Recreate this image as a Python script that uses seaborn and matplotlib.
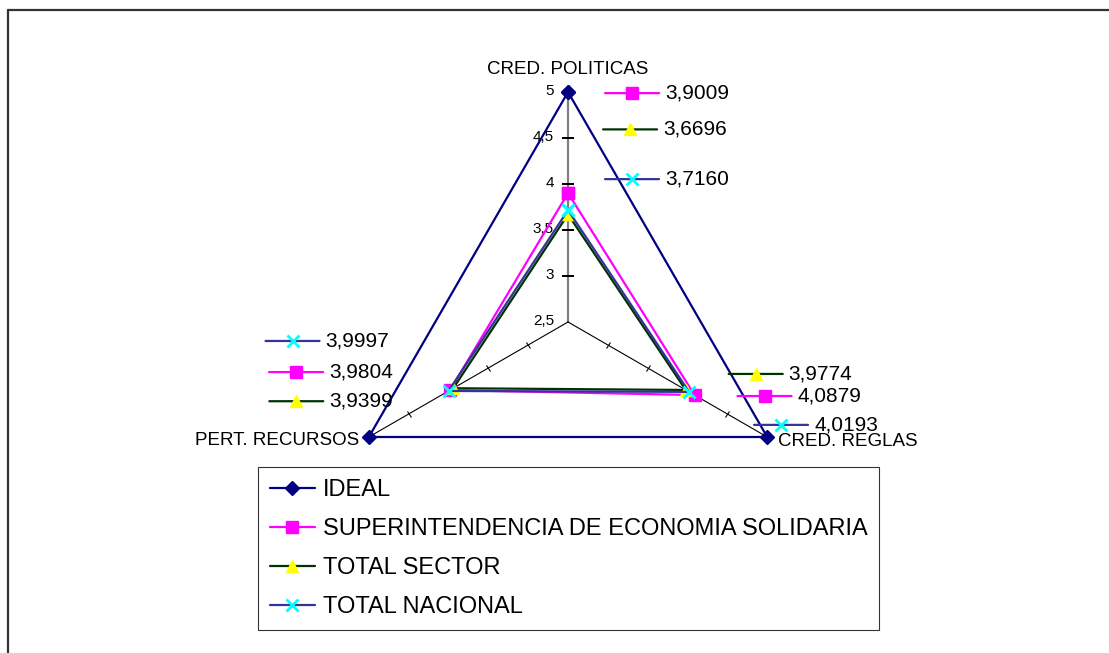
import numpy as np
import matplotlib
matplotlib.use("Agg")
import matplotlib.pyplot as plt
import matplotlib.transforms as mtransforms
from matplotlib.markers import MarkerStyle
import seaborn as sns

# --- Datos ---
categorias = ["CRED. POLITICAS", "CRED. REGLAS", "PERT. RECURSOS"]
series = ["IDEAL", "SUPERINTENDENCIA DE ECONOMIA SOLIDARIA", "TOTAL SECTOR", "TOTAL NACIONAL"]
ideal = [5, 5, 5]
superintendencia = [3.9009, 4.0879, 3.9804]
total_sector = [3.6696, 3.9774, 3.9399]
total_nacional = [3.7160, 4.0193, 3.9997]
valores = [ideal, superintendencia, total_sector, total_nacional]
ticks = [2.5, 3, 3.5, 4, 4.5, 5]
tick_labels = ["2,5", "3", "3,5", "4", "4,5", "5"]

# --- Estilo ---
sns.set_style("white")
plt.rcParams["font.family"] = ["Liberation Sans", "DejaVu Sans"]
plt.rcParams["text.color"] = "black"

estilos = [
    dict(color="#000080", marker="D", mfc="#000080", mec="#000080", ms=7),
    dict(color="#FF00FF", marker="s", mfc="#FF00FF", mec="#FF00FF", ms=8),
    dict(color="#003300", marker="^", mfc="#FFFF00", mec="#FFFF00", ms=9),
    dict(color="#333399", marker="x", mfc="#00FFFF", mec="#00FFFF", ms=9, mew=2),
]

# desplazamientos (pixeles) de las etiquetas de datos respecto a cada punto
offsets = {
    1: [(64, 100), (70, -1), (-154, 18)],
    2: [(62, 85), (70, 16), (-157, -13)],
    3: [(64, 31), (92, -33), (-156, 50)],
}

fig = plt.figure(figsize=(11.09, 6.53), dpi=100)
ax = fig.add_axes([0.3048, 0.1547, 0.4148, 0.7044], projection="polar")
ax.set_theta_offset(np.pi / 2)
ax.set_theta_direction(-1)
ax.set_ylim(2.5, 5)
ax.grid(False)
ax.spines["polar"].set_visible(False)
ax.set_xticks([])
ax.set_yticks([])
ax.patch.set_alpha(0)

angulos = np.linspace(0, 2 * np.pi, len(categorias), endpoint=False)

# ejes radiales
for i, a in enumerate(angulos):
    if i == 0:
        ax.plot([a, a], [2.5, 5], color="#808080", lw=1.6, zorder=1)
    else:
        ax.plot([a, a], [2.5, 5], color="black", lw=0.8, zorder=1)
    ang_pantalla = 90 - np.degrees(a)
    mk = MarkerStyle("_", transform=mtransforms.Affine2D().rotate_deg(ang_pantalla + 90))
    ax.plot([a] * (len(ticks) - 1), ticks[1:], ls="none", marker=mk,
            color="black", ms=8 if i == 0 else 5, mew=1.4 if i == 0 else 0.8, zorder=1)

for v, t in zip(ticks, tick_labels):
    ax.annotate(t, (0, v), xytext=(-14, 1), textcoords="offset pixels",
                ha="right", va="center", fontsize=11)

# series
theta_c = np.append(angulos, angulos[0])
for nombre, vals, est in zip(series, valores, estilos):
    r = np.append(vals, vals[0])
    ax.plot(theta_c, r, lw=1.6, label=nombre, zorder=3, clip_on=False, **est)

# etiquetas de categorias
ax.annotate(categorias[0], (angulos[0], 5), xytext=(0, 23), textcoords="offset pixels",
            ha="center", va="center", fontsize=13.5)
ax.annotate(categorias[1], (angulos[1], 5), xytext=(11, -5), textcoords="offset pixels",
            ha="left", va="center", fontsize=13.5)
ax.annotate(categorias[2], (angulos[2], 5), xytext=(-10, -4), textcoords="offset pixels",
            ha="right", va="center", fontsize=13.5)

# etiquetas de datos con clave de leyenda
for s in (1, 2, 3):
    for j, a in enumerate(angulos):
        dx, dy = offsets[s][j]
        tr = mtransforms.offset_copy(ax.transData, fig=fig, x=dx, y=dy, units="dots")
        tr_l = mtransforms.offset_copy(ax.transData, fig=fig, x=dx - 27, y=dy, units="dots")
        tr_r = mtransforms.offset_copy(ax.transData, fig=fig, x=dx + 27, y=dy, units="dots")
        est = estilos[s]
        ax.plot([a], [valores[s][j]], transform=tr, ls="none", clip_on=False, zorder=5,
                marker=est["marker"], mfc=est["mfc"], mec=est["mec"], ms=est["ms"],
                mew=est.get("mew", 1))
        ax.annotate("", xy=(a, valores[s][j]), xycoords=tr_l,
                    xytext=(a, valores[s][j]), textcoords=tr_r,
                    arrowprops=dict(arrowstyle="-", color=est["color"], lw=1.6,
                                    shrinkA=0, shrinkB=0), zorder=4)
        etiqueta = f"{valores[s][j]:.4f}".replace(".", ",")
        ax.annotate(etiqueta, (a, valores[s][j]), xycoords=tr,
                    xytext=(33, 0), textcoords="offset pixels",
                    ha="left", va="center", fontsize=15)

# leyenda
leg = fig.legend(loc="upper left", bbox_to_anchor=(0.2326, 0.2849), frameon=True,
                 fancybox=False, fontsize=17, labelspacing=0.72, handlelength=1.9,
                 handletextpad=0.35, borderpad=0.5, borderaxespad=0)
leg.get_frame().set_edgecolor("black")
leg.get_frame().set_linewidth(0.8)

# marco exterior (solo izquierda y arriba)
fig.add_artist(plt.Line2D([0.0072, 0.0072], [0, 0.985], color="#333333", lw=1.6))
fig.add_artist(plt.Line2D([0.0072, 1], [0.985, 0.985], color="#333333", lw=1.6))

fig.savefig("out.png", dpi=100, facecolor="white")
